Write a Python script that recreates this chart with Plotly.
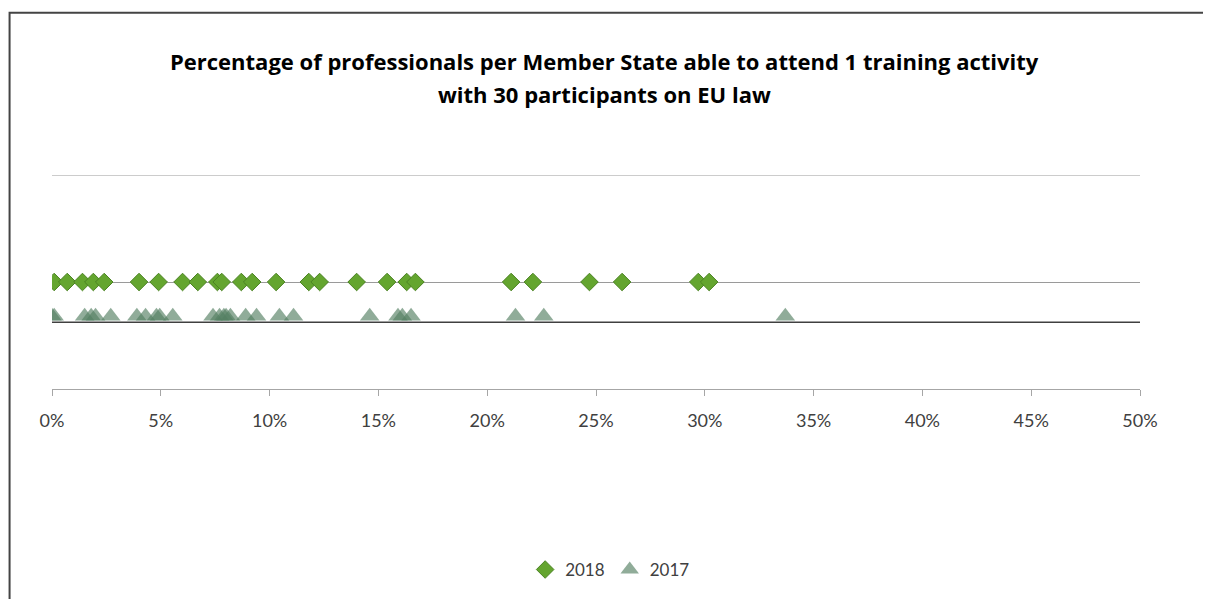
import plotly.graph_objects as go

# Data (percent values)
values_2018 = [0.1, 0.7, 1.4, 1.9, 2.4, 4.0, 4.9, 6.0, 6.7, 7.6, 7.8, 8.7, 9.2, 10.3,
               11.8, 12.3, 14.0, 15.4, 16.3, 16.7, 21.1, 22.1, 24.7, 26.2, 29.7, 30.2]
values_2017 = [0.0, 0.1, 1.5, 1.8, 2.0, 2.7, 3.9, 4.3, 4.8, 4.95, 5.55, 7.4, 7.7, 7.9, 8.0,
               8.2, 8.9, 9.4, 10.45, 11.1, 14.6, 15.9, 16.1, 16.5, 21.3, 22.6, 33.7]
row_2018 = 1.0
row_2017 = 0.68
tick_vals = [0, 5, 10, 15, 20, 25, 30, 35, 40, 45, 50]
tick_text = [f"{v}%" for v in tick_vals]
title_lines = ["Percentage of professionals per Member State able to attend 1 training activity",
               "with 30 participants on EU law"]

FONT = "Lato, 'Open Sans', sans-serif"
TFONT = "'Open Sans', Lato, sans-serif"

fig = go.Figure()
fig.add_trace(go.Scatter(
    x=values_2018, y=[row_2018] * len(values_2018), mode="markers", name="2018",
    marker=dict(symbol="diamond", size=13.5, color="#64a52f",
                line=dict(color="#4b8323", width=1)),
))
fig.add_trace(go.Scatter(
    x=values_2017, y=[row_2017] * len(values_2017), mode="markers", name="2017",
    marker=dict(symbol="triangle-up", size=17, color="#557f63", opacity=0.65,
                line=dict(width=0)),
))

shapes = [
    dict(type="line", xref="paper", yref="y", x0=0, x1=1, y0=2, y1=2,
         line=dict(color="#9a9a9a", width=1), layer="below"),
    dict(type="line", xref="x", yref="y", x0=0, x1=50.3, y0=0.625, y1=0.625,
         line=dict(color="#404040", width=1.5), layer="below"),
    dict(type="rect", xref="paper", yref="paper", x0=-0.039, x1=1.1, y0=-1.2, y1=1.758,
         line=dict(color="#444444", width=2), fillcolor="rgba(0,0,0,0)"),
]

annotations = [
    dict(text=f"<b>{title_lines[0]}</b>", xref="paper", yref="paper", x=0.508, y=1.532,
         showarrow=False, font=dict(family=TFONT, size=22, color="#000000"),
         xanchor="center", yanchor="middle"),
    dict(text=f"<b>{title_lines[1]}</b>", xref="paper", yref="paper", x=0.508, y=1.377,
         showarrow=False, font=dict(family=TFONT, size=22, color="#000000"),
         xanchor="center", yanchor="middle"),
]

fig.update_layout(
    width=1203, height=591,
    margin=dict(l=44, r=71, t=167, b=209),
    paper_bgcolor="white", plot_bgcolor="white",
    showlegend=True,
    legend=dict(orientation="h", x=0.513, xanchor="center", y=-0.837, yanchor="middle",
                font=dict(family=FONT, size=17, color="#404040"), itemwidth=30),
    xaxis=dict(range=[0, 50], tickvals=tick_vals, ticktext=tick_text,
               showgrid=False, zeroline=False, showline=True, linecolor="#a6a6a6",
               linewidth=1, ticks="outside", ticklen=6, tickcolor="#a6a6a6",
               ticklabelstandoff=9,
               tickfont=dict(family=FONT, size=18, color="#404040")),
    yaxis=dict(range=[0, 2], tickvals=[0, 1, 2], showticklabels=False,
               showgrid=True, gridcolor="#9a9a9a", gridwidth=1, zeroline=False,
               showline=False),
    shapes=shapes,
    annotations=annotations,
)

fig.write_html("out.html")
